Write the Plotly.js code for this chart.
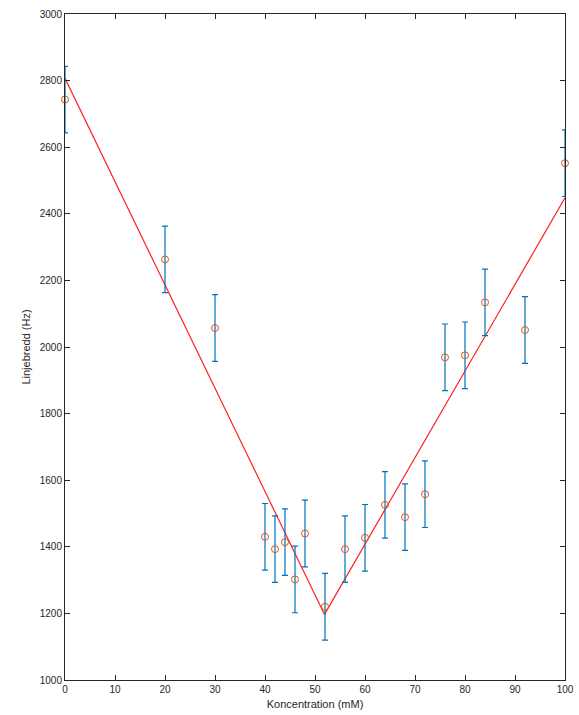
<!DOCTYPE html>
<html>
<head>
<meta charset="utf-8">
<script src="https://cdn.plot.ly/plotly-3.0.1.min.js"></script>
<style>html,body{margin:0;padding:0;background:#fff;}#chart{width:579px;height:715px;}</style>
</head>
<body>
<div id="chart"></div>
<script>
// Measurements
const concentration = [0, 20, 30, 40, 42, 44, 46, 48, 52, 56, 60, 64, 68, 72, 76, 80, 84, 92, 100];
const linewidth = [2743, 2263, 2057, 1430, 1393, 1414, 1302, 1440, 1220, 1393, 1427, 1526, 1489, 1558, 1969, 1975, 2134, 2051, 2552];
const errors = [100, 100, 100, 100, 100, 100, 100, 100, 100, 100, 100, 100, 100, 100, 100, 100, 100, 100, 100];
// Fitted V-shaped model
const fitX = [0, 51.9, 100];
const fitY = [2807, 1197, 2448];
const xTicks = [0, 10, 20, 30, 40, 50, 60, 70, 80, 90, 100];
const yTicks = [1000, 1200, 1400, 1600, 1800, 2000, 2200, 2400, 2600, 2800, 3000];

const traces = [
  {
    x: fitX, y: fitY, type: 'scatter', mode: 'lines',
    line: {color: '#FF2020', width: 1.2},
    showlegend: false, hoverinfo: 'skip', cliponaxis: false
  },
  {
    x: concentration, y: linewidth, type: 'scatter', mode: 'markers',
    marker: {symbol: 'circle-open', size: 7, color: '#D95319', line: {width: 1, color: '#D95319'}},
    error_y: {type: 'data', array: errors, visible: true, color: '#0072BD', thickness: 1.2, width: 3},
    showlegend: false, hoverinfo: 'skip', cliponaxis: false
  }
];

const axisCommon = {
  showline: true, linecolor: '#262626', linewidth: 1, mirror: 'ticks',
  ticks: 'inside', ticklen: 5, tickcolor: '#262626', tickwidth: 1,
  showgrid: false, zeroline: false,
  tickfont: {family: 'Liberation Sans, Arial, sans-serif', size: 10, color: '#262626'}
};

const layout = {
  width: 579, height: 715,
  margin: {l: 65, r: 14, t: 14, b: 35},
  paper_bgcolor: '#fff', plot_bgcolor: '#fff',
  xaxis: Object.assign({}, axisCommon, {
    range: [0, 100], tickvals: xTicks, ticktext: xTicks.map(String),
    title: {text: 'Koncentration (mM)', standoff: 6, font: {family: 'Liberation Sans, Arial, sans-serif', size: 11, color: '#262626'}}
  }),
  yaxis: Object.assign({}, axisCommon, {
    range: [1000, 3000], tickvals: yTicks, ticktext: yTicks.map(String),
    title: {text: 'Linjebredd (Hz)', standoff: 6, font: {family: 'Liberation Sans, Arial, sans-serif', size: 11, color: '#262626'}}
  })
};

Plotly.newPlot('chart', traces, layout, {staticPlot: true, displayModeBar: false});
</script>
</body>
</html>
